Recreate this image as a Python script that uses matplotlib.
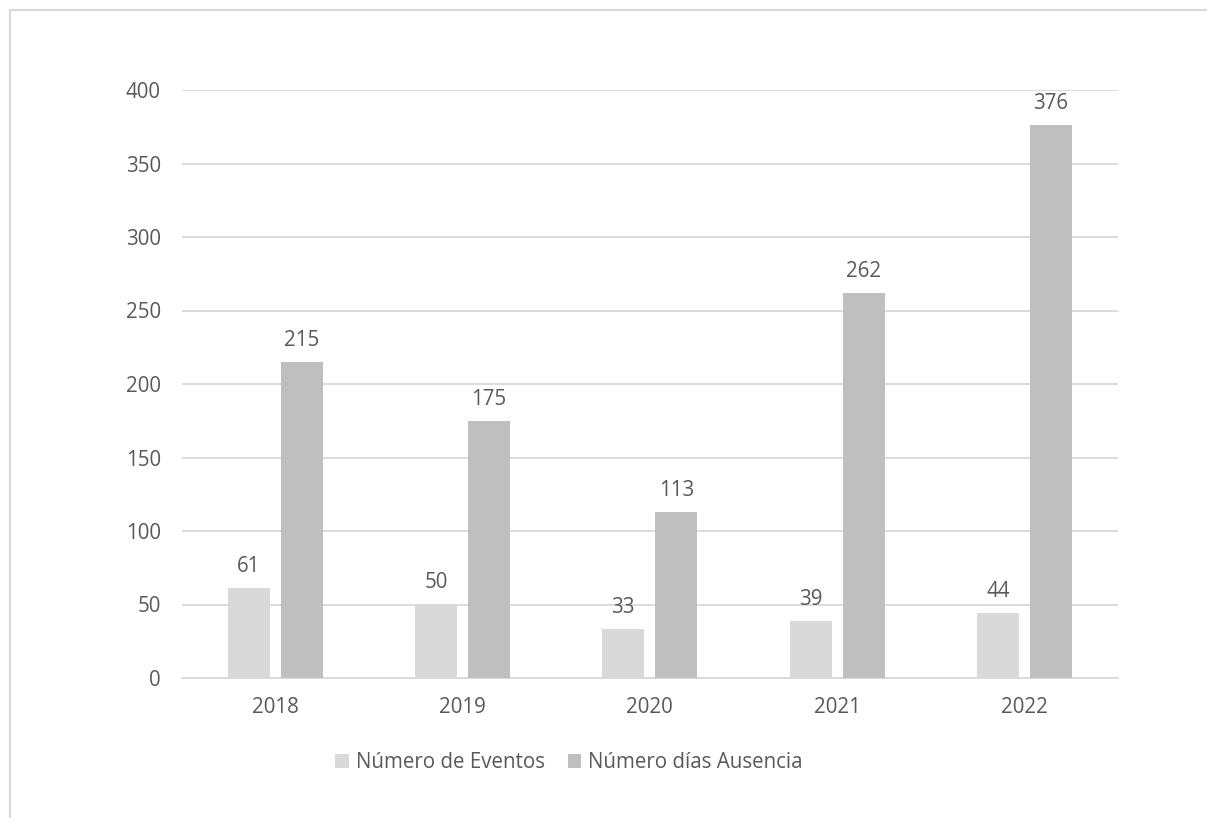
import matplotlib.pyplot as plt
import numpy as np
from matplotlib.lines import Line2D

anios = ['2018', '2019', '2020', '2021', '2022']
eventos = [61, 50, 33, 39, 44]
dias_ausencia = [215, 175, 113, 262, 376]

color_texto = '#595959'
color_claro = '#D9D9D9'
color_oscuro = '#BFBFBF'

plt.rcParams['font.family'] = ['Open Sans', 'DejaVu Sans']

fig = plt.figure(figsize=(12.07, 8.18), dpi=100)
ax = fig.add_axes([181.6 / 1207, 1 - 678 / 818, (1118 - 181.6) / 1207, 588 / 818])

x = np.arange(len(anios))
ancho = 0.224
b1 = ax.bar(x - 0.1415, eventos, ancho, color=color_claro, label='Número de Eventos', zorder=3)
b2 = ax.bar(x + 0.1415, dias_ausencia, ancho, color=color_oscuro, label='Número días Ausencia', zorder=3)

for barras in (b1, b2):
    for b in barras:
        ax.annotate(f'{int(b.get_height())}', (b.get_x() + b.get_width() / 2, b.get_height()),
                    xytext=(0, 8), textcoords='offset points', ha='center', va='bottom',
                    fontsize=14.8, color=color_texto)

ax.set_xlim(-0.5, 4.5)
ax.set_ylim(0, 400)
ax.set_yticks(range(0, 401, 50))
ax.set_xticks(x)
ax.set_xticklabels(anios)
ax.tick_params(length=0, labelsize=14.8, labelcolor=color_texto)
ax.tick_params(axis='x', pad=14)
ax.tick_params(axis='y', pad=15)
ax.yaxis.grid(True, color=color_claro, linewidth=1.3, zorder=0)
for s in ['top', 'right', 'left']:
    ax.spines[s].set_visible(False)
ax.spines['bottom'].set_color(color_claro)
ax.spines['bottom'].set_linewidth(1.3)

leg = fig.legend(loc='center', bbox_to_anchor=(569 / 1207, 1 - 763 / 818), ncol=2, frameon=False,
                 fontsize=14.8, handlelength=0.65, handleheight=0.65, handletextpad=0.35,
                 columnspacing=1.1)
for t in leg.get_texts():
    t.set_color(color_texto)

# marco del gráfico (solo se ven el borde superior e izquierdo)
y_borde = 1 - 9.5 / 818
x_borde = 9.5 / 1207
fig.add_artist(Line2D([x_borde, 1.05], [y_borde, y_borde], transform=fig.transFigure,
                      color=color_claro, linewidth=1.5))
fig.add_artist(Line2D([x_borde, x_borde], [-0.05, y_borde], transform=fig.transFigure,
                      color=color_claro, linewidth=1.5))

fig.savefig('out.png', dpi=100)
